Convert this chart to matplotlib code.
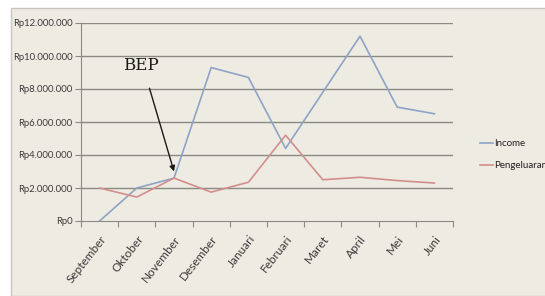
import matplotlib
matplotlib.use("Agg")
import matplotlib.pyplot as plt
from matplotlib.patches import Rectangle
import numpy as np

months = ["September", "Oktober", "November", "Desember", "Januari",
          "Februari", "Maret", "April", "Mei", "Juni"]
income = [0, 2000000, 2600000, 9300000, 8700000, 4400000, 7800000, 11200000, 6900000, 6500000]
pengeluaran = [2000000, 1450000, 2600000, 1750000, 2350000, 5200000, 2500000, 2650000, 2450000, 2300000]
yticks = [0, 2000000, 4000000, 6000000, 8000000, 10000000, 12000000]
series_names = ["Income", "Pengeluaran"]

def rp(v):
    return "Rp" + f"{int(v):,}".replace(",", ".")

plt.rcParams['font.family'] = ['Lato', 'DejaVu Sans']
W, H = 545, 296
fig = plt.figure(figsize=(W/100, H/100), dpi=100)
fig.patch.set_facecolor("white")
bg = "#eeebe2"
fig.patches.append(Rectangle((11/W, 0), 1, 1 - 8/H, transform=fig.transFigure,
                             facecolor=bg, edgecolor="#c8c6c0", lw=1, zorder=-5))

ax = fig.add_axes([81/W, 1 - 221/H, (453-81)/W, (221-23)/H])
ax.set_zorder(2)
ax.set_facecolor(bg)
x = np.arange(len(months))
ax.plot(x, income, color="#8fa3c6", lw=1.2, zorder=3)
ax.plot(x, pengeluaran, color="#d38e8c", lw=1.2, zorder=3)

ax.set_xlim(-0.5, len(months) - 0.5)
ax.set_ylim(0, 12000000)
ax.set_yticks(yticks)
ax.set_yticklabels([rp(v) for v in yticks], fontsize=6.8, color="#3a3a3a")
for v in yticks[1:]:
    ax.axhline(v, color="#8a8a85", lw=1.0, zorder=1)

ax.set_xticks(np.arange(-0.5, len(months)), minor=False)
ax.set_xticklabels([])
ax.set_xticks(x, minor=True)
ax.set_xticklabels(months, minor=True, rotation=52, ha="right", va="top",
                   rotation_mode="anchor", fontsize=8.5, color="#3a3a3a")
ax.tick_params(axis="x", which="minor", length=0, pad=9)
ax.tick_params(axis="x", which="major", length=4, color="#8a8a85", direction="out")
ax.tick_params(axis="y", length=4, color="#8a8a85", pad=2)

for s in ["top", "right"]:
    ax.spines[s].set_visible(False)
ax.spines["left"].set_color("#8a8a85")
ax.spines["bottom"].set_color("#8a8a85")

ax.text(1.1, 9450000, "BEP", fontsize=12, family="DejaVu Serif", color="#1a1a1a",
        ha="center", va="center")
ax.annotate("", xy=(2, 3000000), xytext=(1.34, 8050000),
            arrowprops=dict(arrowstyle="-|>", color="#1a1a1a", lw=1.0,
                            shrinkA=0, shrinkB=0, mutation_scale=8))

# legend
fig.lines.append(plt.Line2D([480/W, 493/W], [1 - 143/H, 1 - 143/H], transform=fig.transFigure, color="#8fa3c6", lw=1.2))
fig.lines.append(plt.Line2D([480/W, 493/W], [1 - 165/H, 1 - 165/H], transform=fig.transFigure, color="#d38e8c", lw=1.2))
fig.text(494/W, 1 - 143/H, series_names[0], fontsize=7, va="center", color="#222222")
fig.text(494/W, 1 - 165/H, series_names[1], fontsize=7, va="center", color="#222222")

fig.savefig("out.png", dpi=100, facecolor="white")
